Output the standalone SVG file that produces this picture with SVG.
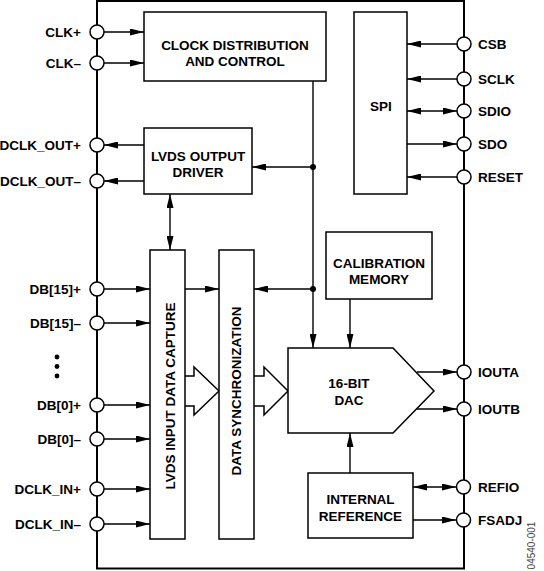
<svg xmlns="http://www.w3.org/2000/svg" width="544" height="571" viewBox="0 0 544 571">
<defs>
<style>
.box{fill:#fff;stroke:#000;stroke-width:1.5}
.frame{fill:none;stroke:#000;stroke-width:2}
.pin{fill:#fff;stroke:#000;stroke-width:1.5}
.ln{fill:none;stroke:#000;stroke-width:1.4}
.t{font-family:"Liberation Sans",Arial,Helvetica,sans-serif;font-weight:bold;font-size:13.5px;fill:#000}
.m{text-anchor:middle}
.e{text-anchor:end}
.id{font-family:"Liberation Sans",Arial,sans-serif;font-size:10px;fill:#444;text-anchor:middle}
</style>
<marker id="ah" viewBox="0 0 14 7" refX="14" refY="3.5" markerWidth="14" markerHeight="7" markerUnits="userSpaceOnUse" orient="auto-start-reverse">
<path d="M0,0 L14,3.5 L0,7 z" fill="#000"/>
</marker>
</defs>

<rect class="frame" x="97" y="1" width="367" height="567.5"/>

<g id="connectors">
<line class="ln" x1="104" y1="32" x2="144" y2="32" marker-end="url(#ah)"/>
<line class="ln" x1="104" y1="63" x2="144" y2="63" marker-end="url(#ah)"/>
<line class="ln" x1="144" y1="145" x2="104" y2="145" marker-end="url(#ah)"/>
<line class="ln" x1="144" y1="181" x2="104" y2="181" marker-end="url(#ah)"/>
<line class="ln" x1="313" y1="81" x2="313" y2="348" marker-end="url(#ah)"/>
<line class="ln" x1="313" y1="167" x2="252" y2="167" marker-end="url(#ah)"/>
<circle cx="313" cy="167" r="3"/>
<line class="ln" x1="170" y1="194" x2="170" y2="250" marker-start="url(#ah)" marker-end="url(#ah)"/>
<line class="ln" x1="104" y1="289" x2="150" y2="289" marker-end="url(#ah)"/>
<line class="ln" x1="104" y1="323" x2="150" y2="323" marker-end="url(#ah)"/>
<line class="ln" x1="104" y1="405" x2="150" y2="405" marker-end="url(#ah)"/>
<line class="ln" x1="104" y1="439" x2="150" y2="439" marker-end="url(#ah)"/>
<line class="ln" x1="104" y1="489" x2="150" y2="489" marker-end="url(#ah)"/>
<line class="ln" x1="104" y1="524" x2="150" y2="524" marker-end="url(#ah)"/>
<line class="ln" x1="185" y1="289" x2="219" y2="289" marker-end="url(#ah)"/>
<line class="ln" x1="313" y1="289" x2="254" y2="289" marker-end="url(#ah)"/>
<circle cx="313" cy="289" r="3"/>
<line class="ln" x1="350" y1="299" x2="350" y2="348" marker-end="url(#ah)"/>
<line class="ln" x1="350" y1="473" x2="350" y2="433" marker-end="url(#ah)"/>
<line class="ln" x1="417" y1="372" x2="457" y2="372" marker-end="url(#ah)"/>
<line class="ln" x1="417" y1="409" x2="457" y2="409" marker-end="url(#ah)"/>
<line class="ln" x1="413" y1="487" x2="456" y2="487" marker-start="url(#ah)" marker-end="url(#ah)"/>
<line class="ln" x1="413" y1="520" x2="456" y2="520" marker-end="url(#ah)"/>
<line class="ln" x1="457" y1="44" x2="407" y2="44" marker-end="url(#ah)"/>
<line class="ln" x1="457" y1="79" x2="407" y2="79" marker-end="url(#ah)"/>
<line class="ln" x1="407" y1="111" x2="457" y2="111" marker-start="url(#ah)" marker-end="url(#ah)"/>
<line class="ln" x1="407" y1="144" x2="457" y2="144" marker-end="url(#ah)"/>
<line class="ln" x1="457" y1="177" x2="407" y2="177" marker-end="url(#ah)"/>
<polyline class="box" points="185,376 194,376 194,367 219,391 194,415 194,406 185,406"/>
<polyline class="box" points="254,376 264,376 264,367 288,391 264,415 264,406 254,406"/>
</g>

<g id="clock">
<rect class="box" x="144" y="12" width="182" height="69"/>
<text class="t m" x="235" y="49.5">CLOCK DISTRIBUTION</text>
<text class="t m" x="235" y="66">AND CONTROL</text>
</g>
<g id="lvds-out">
<rect class="box" x="144" y="128" width="108" height="66"/>
<text class="t m" x="198" y="161">LVDS OUTPUT</text>
<text class="t m" x="198" y="177">DRIVER</text>
</g>
<g id="spi">
<rect class="box" x="354" y="12" width="53" height="182"/>
<text class="t m" x="381" y="111">SPI</text>
</g>
<g id="capture">
<rect class="box" x="150" y="250" width="35" height="289"/>
<text class="t m" transform="translate(175,396) rotate(-90)">LVDS INPUT DATA CAPTURE</text>
</g>
<g id="sync">
<rect class="box" x="219" y="250" width="35" height="289"/>
<text class="t m" transform="translate(241,391) rotate(-90)">DATA SYNCHRONIZATION</text>
</g>
<g id="calib">
<rect class="box" x="326" y="232" width="106" height="67"/>
<text class="t m" x="379" y="268">CALIBRATION</text>
<text class="t m" x="379" y="284">MEMORY</text>
</g>
<g id="dac">
<polygon class="box" points="288,348 393,348 434,391 393,433 288,433"/>
<text class="t m" x="349" y="388">16-BIT</text>
<text class="t m" x="349" y="405">DAC</text>
</g>
<g id="ref">
<rect class="box" x="308" y="473" width="105" height="65"/>
<text class="t m" x="360.5" y="504">INTERNAL</text>
<text class="t m" x="360.5" y="521">REFERENCE</text>
</g>

<g id="pins-left">
<circle class="pin" cx="97" cy="32" r="7"/>
<circle class="pin" cx="97" cy="63" r="7"/>
<circle class="pin" cx="97" cy="145" r="7"/>
<circle class="pin" cx="97" cy="181" r="7"/>
<circle class="pin" cx="97" cy="289" r="7"/>
<circle class="pin" cx="97" cy="323" r="7"/>
<circle class="pin" cx="97" cy="405" r="7"/>
<circle class="pin" cx="97" cy="439" r="7"/>
<circle class="pin" cx="97" cy="489" r="7"/>
<circle class="pin" cx="97" cy="524" r="7"/>
<text class="t e" x="81" y="36.8">CLK+</text>
<text class="t e" x="81" y="67.8">CLK–</text>
<text class="t e" x="81" y="149.8">DCLK_OUT+</text>
<text class="t e" x="81" y="185.8">DCLK_OUT–</text>
<text class="t e" x="81" y="293.8">DB[15]+</text>
<text class="t e" x="81" y="327.8">DB[15]–</text>
<circle cx="57" cy="357" r="2.4"/>
<circle cx="57" cy="366.5" r="2.4"/>
<circle cx="57" cy="376" r="2.4"/>
<text class="t e" x="81" y="409.8">DB[0]+</text>
<text class="t e" x="81" y="443.8">DB[0]–</text>
<text class="t e" x="81" y="493.8">DCLK_IN+</text>
<text class="t e" x="81" y="528.8">DCLK_IN–</text>
</g>

<g id="pins-right">
<circle class="pin" cx="464" cy="44" r="7"/>
<circle class="pin" cx="464" cy="79" r="7"/>
<circle class="pin" cx="464" cy="111" r="7"/>
<circle class="pin" cx="464" cy="144" r="7"/>
<circle class="pin" cx="464" cy="177" r="7"/>
<circle class="pin" cx="464" cy="372" r="7"/>
<circle class="pin" cx="464" cy="409" r="7"/>
<circle class="pin" cx="463.5" cy="487" r="7"/>
<circle class="pin" cx="463.5" cy="520" r="7"/>
<text class="t" x="478" y="48.8">CSB</text>
<text class="t" x="478" y="83.8">SCLK</text>
<text class="t" x="478" y="115.8">SDIO</text>
<text class="t" x="478" y="148.8">SDO</text>
<text class="t" x="478" y="181.8">RESET</text>
<text class="t" x="478" y="376.8">IOUTA</text>
<text class="t" x="478" y="413.8">IOUTB</text>
<text class="t" x="478" y="491.8">REFIO</text>
<text class="t" x="478" y="524.8">FSADJ</text>
</g>

<text class="id" transform="translate(535,545.5) rotate(-90)">04540-001</text>
</svg>
